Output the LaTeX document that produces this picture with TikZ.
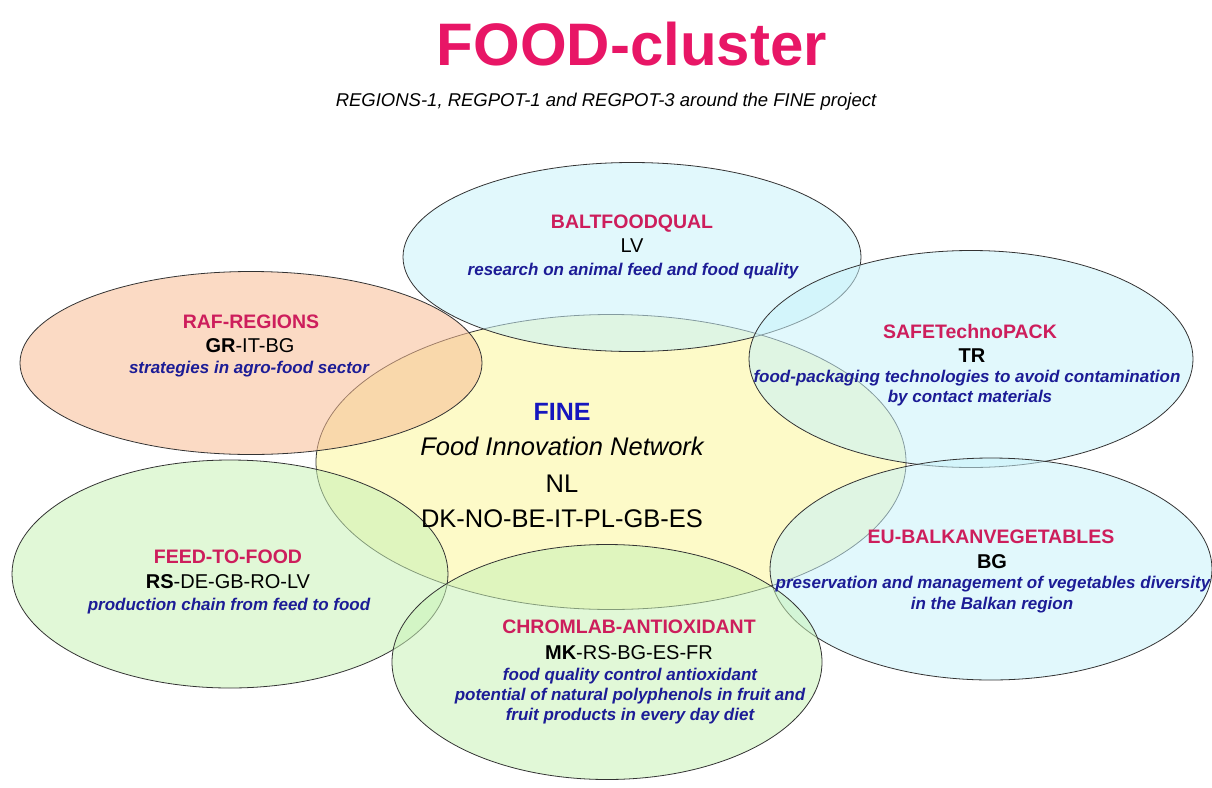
\documentclass[tikz,border=0pt]{standalone}
\usepackage{fontspec}
\setmainfont{Liberation Sans}
\usetikzlibrary{shapes.geometric}
\definecolor{titlered}{RGB}{232,22,102}
\definecolor{projred}{RGB}{205,30,92}
\definecolor{topicblue}{RGB}{28,28,150}
\definecolor{fineblue}{RGB}{22,22,190}
\definecolor{skyfill}{RGB}{200,242,250}
\definecolor{peachfill}{RGB}{248,188,148}
\definecolor{lemonfill}{RGB}{251,246,155}
\definecolor{mintfill}{RGB}{200,242,182}
\begin{document}
\begin{tikzpicture}[x=1pt,y=-1pt,
  blob/.style={ellipse,draw=black!80,line width=0.8pt,fill opacity=0.55,inner sep=0pt,outer sep=0pt},
  pname/.style={anchor=base,text=projred,font=\bfseries\fontsize{19.5}{22}\selectfont},
  ctry/.style={anchor=base,font=\fontsize{20}{23}\selectfont},
  topic/.style={anchor=base,text=topicblue,font=\bfseries\itshape\fontsize{17}{20}\selectfont},
  core/.style={anchor=base,font=\fontsize{25.5}{29}\selectfont}]
\useasboundingbox (0,0) rectangle (1212,787);
% title
\node[anchor=base,text=titlered,font=\bfseries\fontsize{60}{66}\selectfont] (title) at (632,65) {FOOD-cluster};
\node[anchor=base,font=\itshape\fontsize{18.5}{22}\selectfont] (subtitle) at (606,106) {REGIONS-1, REGPOT-1 and REGPOT-3 around the FINE project};
% project ellipses
\node[blob,fill=lemonfill,minimum width=590,minimum height=295] (fine) at (611,462) {};
\node[blob,fill=peachfill,minimum width=462,minimum height=183] (raf) at (251,363) {};
\node[blob,fill=skyfill,minimum width=458,minimum height=189] (balt) at (632,257) {};
\node[blob,fill=skyfill,minimum width=444,minimum height=217] (safe) at (971,359) {};
\node[blob,fill=mintfill,minimum width=436,minimum height=228] (feed) at (230,574) {};
\node[blob,fill=skyfill,minimum width=442,minimum height=222] (balkan) at (991,569) {};
\node[blob,fill=mintfill,minimum width=430,minimum height=235] (chrom) at (607,662) {};
% FINE
\node[core,text=fineblue,font=\bfseries\fontsize{25}{29}\selectfont] (fine-n) at (562,420) {FINE};
\node[core,font=\itshape\fontsize{25.5}{29}\selectfont] (fine-t) at (562,455) {Food Innovation Network};
\node[core] (fine-c) at (562,492) {NL}; \node[core] (fine-p) at (562,527) {DK-NO-BE-IT-PL-GB-ES};
% projects around
\node[pname] (balt-n) at (632,228) {BALTFOODQUAL}; \node[ctry] (balt-c) at (632,252) {LV};
\node[topic] (balt-t) at (633,275) {research on animal feed and food quality};
\node[pname] (raf-n) at (251,328) {RAF-REGIONS}; \node[ctry] (raf-c) at (250,352) {\textbf{GR}-IT-BG};
\node[topic] (raf-t) at (249,373) {strategies in agro-food sector};
\node[pname] (safe-n) at (970,338) {SAFETechnoPACK}; \node[ctry] (safe-c) at (972,362) {\textbf{TR}};
\node[topic] (safe-t) at (967,382) {food-packaging technologies to avoid contamination};
\node[topic] (safe-u) at (970,402) {by contact materials};
\node[pname] (feed-n) at (228,563) {FEED-TO-FOOD}; \node[ctry] (feed-c) at (228,588) {\textbf{RS}-DE-GB-RO-LV};
\node[topic] (feed-t) at (229,610) {production chain from feed to food};
\node[pname] (balkan-n) at (991,543) {EU-BALKANVEGETABLES}; \node[ctry] (balkan-c) at (992,568) {\textbf{BG}};
\node[topic] (balkan-t) at (993,588) {preservation and management of vegetables diversity};
\node[topic] (balkan-u) at (992,609) {in the Balkan region};
\node[pname] (chrom-n) at (629,633) {CHROMLAB-ANTIOXIDANT}; \node[ctry] (chrom-c) at (629,659) {\textbf{MK}-RS-BG-ES-FR};
\node[topic] (chrom-t) at (630,680) {food quality control antioxidant};
\node[topic] (chrom-u) at (630,700) {potential of natural polyphenols in fruit and};
\node[topic] (chrom-v) at (630,720) {fruit products in every day diet};
\end{tikzpicture}
\end{document}
